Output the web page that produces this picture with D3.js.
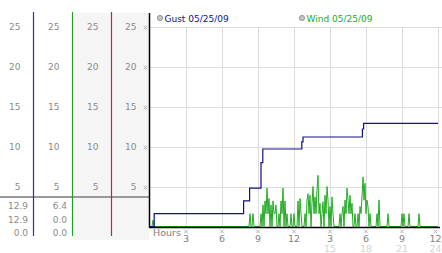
<!DOCTYPE html>
<html>
<head>
<meta charset="utf-8">
<script src="https://cdn.jsdelivr.net/npm/d3@7"></script>
<style>
  body { margin: 0; background: #fff; }
  svg { display: block; font-family: "DejaVu Sans", Verdana, sans-serif; }
</style>
</head>
<body>
<div id="chart"></div>
<script>
// Wind / gust chart for one day (05/25/09)

// y scale ticks shared by all the side columns and the plot
const yTicks = [5, 10, 15, 20, 25];

// x axis: hours of the day
const hourTicks = [3, 6, 9, 12, 15, 18, 21, 24];
const hourLabels = ["3", "6", "9", "12", "3", "6", "9", "12"];
const hourLabels24 = ["", "", "", "", "15", "18", "21", "24"];

// Gust (step line)
const gustHours = [0, 0.35, 7.8, 8.3, 9.25, 9.4, 12.65, 12.75, 17.7, 17.8, 24];
const gustValues = [0, 1.6, 3.2, 4.8, 8.0, 9.7, 10.6, 11.2, 12.2, 12.9, 12.9];

// Wind, one reading every 5 minutes from 0:00 to 24:00 (one row per hour)
const windValues = [
  0, 0, 0, 0.8, 0, 0, 0, 0, 0, 0, 0, 0,
  0, 0, 0, 0, 0, 0, 0, 0, 0, 0, 0, 0,
  0, 0, 0, 0, 0, 0, 0, 0, 0, 0, 0, 0,
  0, 0, 0, 0, 0, 0, 0, 0, 0, 0, 0, 0,
  0, 0, 0, 0, 0, 0, 0, 0, 0, 0, 0, 0,
  0, 0, 0, 0, 0, 0, 0, 0, 0, 0, 0, 0,
  0, 0, 0, 0, 0, 0, 0, 0, 0, 0, 0, 0,
  0, 0, 0, 0, 0, 0, 0, 0, 0, 0, 0, 0,
  0, 0, 0, 0, 1.6, 0, 0, 1.6, 0, 0, 0, 0,
  0, 0, 0, 1.6, 0, 2.7, 0, 3.2, 1.6, 4.8, 1.6, 3.5,
  0, 2.7, 0, 3.2, 1.6, 1.6, 2.7, 0, 0, 1.6, 0, 3.2,
  1.6, 4.8, 0, 3.2, 0, 1.6, 0, 0, 0, 1.6, 0, 0,
  1.6, 0, 0, 0, 3.2, 0, 3.5, 1.6, 0, 0, 0, 1.6,
  0, 3.3, 4.1, 1.6, 3.9, 0, 2.9, 5.0, 1.6, 3.7, 1.6, 4.6,
  6.4, 1.6, 2.9, 0, 1.6, 3.1, 0, 3.9, 1.6, 5.0, 3.3, 0,
  2.5, 0, 3.7, 1.6, 0, 0, 0, 0, 0, 0, 1.6, 0,
  1.6, 2.5, 0, 3.3, 1.6, 4.8, 3.3, 1.6, 3.9, 1.6, 2.9, 0,
  0, 1.6, 0, 0, 1.6, 0, 2.5, 1.6, 3.7, 6.2, 3.3, 5.4,
  1.6, 3.3, 2.5, 0, 1.6, 0, 0, 0, 0, 0, 0, 1.6,
  0, 3.3, 0, 0, 0, 0, 0, 0, 0, 0, 1.6, 0,
  0, 0, 0, 0, 0, 0, 0, 0, 0, 0, 0, 0,
  1.6, 0, 1.6, 0, 0, 0, 0, 1.6, 0, 0, 0, 0,
  0, 0, 0, 0, 0, 1.6, 0, 0, 0, 0, 0, 0,
  0, 0, 0, 0, 0, 0, 0, 0, 0, 0, 0, 0,
  0
];

// Summary values under the side columns
const gustStats = ["12.9", "12.9", "0.0"];
const windStats = ["6.4", "0.0", "0.0"];

const legendItems = ["Gust 05/25/09", "Wind 05/25/09"];

const width = 442, height = 253;
const navy = "#10108a";
const green = "#22aa22";

const svg = d3.select("#chart").append("svg")
  .attr("width", width)
  .attr("height", height);

const x = d3.scaleLinear().domain([0, 24]).range([150, 438]);
const y = d3.scaleLinear().domain([0, 25]).range([226.5, 26.7]);

// ---- side columns ----
const cols = [
  { left: 0, right: 33, line: "#1f3a9a", bg: null, stats: gustStats },
  { left: 33, right: 72, line: "#2a9a2a", bg: null, stats: windStats },
  { left: 72, right: 111, line: "#a83232", bg: "#f5f5f5", stats: [] },
  { left: 111, right: 149, line: null, bg: "#f5f5f5", stats: [] }
];

cols.forEach(c => {
  if (c.bg) {
    svg.append("rect")
      .attr("x", c.left + 1).attr("y", 13)
      .attr("width", c.right - c.left - 1).attr("height", 227)
      .attr("fill", c.bg);
  }
});

// grey separator above the summary values
svg.append("rect")
  .attr("x", 0).attr("y", 196)
  .attr("width", 149).attr("height", 2)
  .attr("fill", "#9a9a9a");

cols.forEach(c => {
  if (c.line) {
    svg.append("line")
      .attr("x1", c.right + 0.5).attr("x2", c.right + 0.5)
      .attr("y1", 12).attr("y2", 236)
      .attr("stroke", c.line).attr("stroke-width", 1.2);
  }
  svg.selectAll(null).data(yTicks).join("text")
    .attr("x", c.right - 12.5)
    .attr("y", d => y(d) + 3.5)
    .attr("text-anchor", "end")
    .attr("font-size", 9)
    .attr("fill", "#8a8a8a")
    .text(d => d);
  svg.selectAll(null).data(c.stats).join("text")
    .attr("x", c.right - 5)
    .attr("y", (d, i) => 209 + i * 13.5)
    .attr("text-anchor", "end")
    .attr("font-size", 9)
    .attr("fill", "#8a8a8a")
    .text(d => d);
});

// ---- plot grid ----
svg.selectAll(null).data(yTicks).join("line")
  .attr("x1", 150).attr("x2", 442)
  .attr("y1", d => Math.round(y(d)) + 0.5).attr("y2", d => Math.round(y(d)) + 0.5)
  .attr("stroke", "#dcdcdc");

svg.selectAll(null).data(hourTicks).join("line")
  .attr("x1", d => Math.round(x(d)) + 0.5).attr("x2", d => Math.round(x(d)) + 0.5)
  .attr("y1", y(25)).attr("y2", y(0))
  .attr("stroke", "#dcdcdc");

// small hatched tick marks
function tickMark(g, cx, cy) {
  g.append("path")
    .attr("d", `M${cx - 1.8},${cy - 1.8}L${cx + 1.8},${cy + 1.8}M${cx + 1.8},${cy - 1.8}L${cx - 1.8},${cy + 1.8}`)
    .attr("stroke", "#aaa")
    .attr("stroke-width", 0.9)
    .attr("fill", "none");
}
yTicks.forEach(v => tickMark(svg, 145.5, Math.round(y(v)) + 0.5));

// ---- series ----
const windLine = d3.line()
  .x((d, i) => x(i / 12))
  .y(d => y(d));

svg.append("path")
  .datum(windValues)
  .attr("d", windLine)
  .attr("fill", "none")
  .attr("stroke", green)
  .attr("stroke-width", 1);

const gustLine = d3.line()
  .x(d => x(d[0]))
  .y(d => y(d[1]))
  .curve(d3.curveStepAfter);

svg.append("path")
  .datum(d3.zip(gustHours, gustValues))
  .attr("d", gustLine)
  .attr("fill", "none")
  .attr("stroke", navy)
  .attr("stroke-width", 1.2);

// axes lines
svg.append("line")
  .attr("x1", 149.5).attr("x2", 149.5)
  .attr("y1", 13).attr("y2", 228)
  .attr("stroke", "#000").attr("stroke-width", 1.5);
svg.append("line")
  .attr("x1", 149).attr("x2", 440)
  .attr("y1", 227.5).attr("y2", 227.5)
  .attr("stroke", "#000").attr("stroke-width", 1.3);

// x tick marks and labels
const labelX = d => Math.min(x(d), 435.5);
hourTicks.forEach(h => tickMark(svg, labelX(h), 231.5));

svg.selectAll(null).data(hourTicks).join("text")
  .attr("x", labelX).attr("y", 241.5)
  .attr("text-anchor", "middle")
  .attr("font-size", 9.5)
  .attr("fill", "#808080")
  .text((d, i) => hourLabels[i]);

svg.selectAll(null).data(hourTicks).join("text")
  .attr("x", labelX).attr("y", 251.5)
  .attr("text-anchor", "middle")
  .attr("font-size", 9.5)
  .attr("fill", "#d4d4d4")
  .text((d, i) => hourLabels24[i]);

svg.append("text")
  .attr("x", 153).attr("y", 236)
  .attr("font-size", 9.5)
  .attr("fill", "#808080")
  .text("Hours");

// legend
const legendX = [160, 302];
const legendColors = [navy, green];
legendItems.forEach((t, i) => {
  svg.append("circle")
    .attr("cx", legendX[i]).attr("cy", 18)
    .attr("r", 2.6)
    .attr("fill", "#c4c4c4")
    .attr("stroke", "#999");
  svg.append("text")
    .attr("x", legendX[i] + 4.5).attr("y", 21.5)
    .attr("font-size", 9)
    .attr("fill", legendColors[i])
    .text(t);
});
</script>
</body>
</html>
